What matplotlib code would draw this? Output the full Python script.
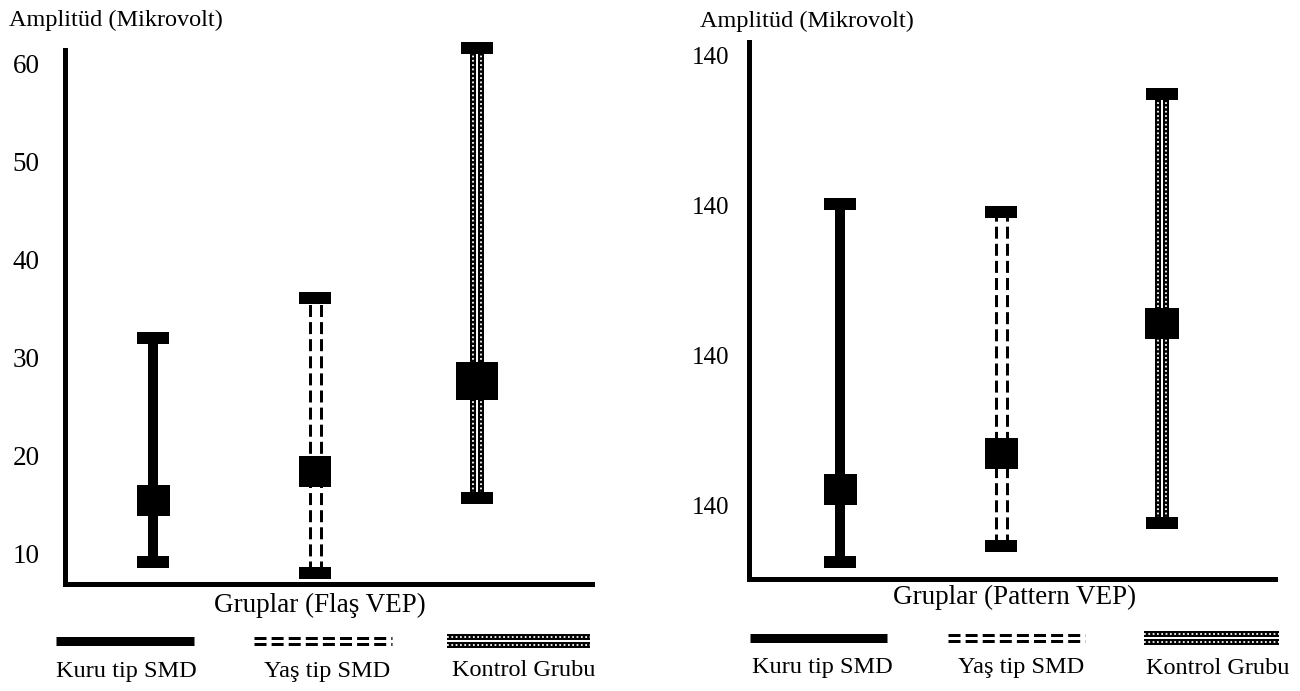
import matplotlib
matplotlib.use("Agg")
import matplotlib.pyplot as plt
from matplotlib import transforms
from matplotlib.path import Path

plt.rcParams["font.family"] = ["Liberation Serif", "DejaVu Serif"]

# ---- data ----
groups = ["Kuru tip SMD", "Yaş tip SMD", "Kontrol Grubu"]

# Flaş VEP: mean and range (µV)
flas_mean = [15.5, 18.4, 27.6]
flas_low = [9.2, 8.0, 15.7]
flas_high = [32.0, 36.1, 61.6]
flas_ticks = [10, 20, 30, 40, 50, 60]

# Pattern VEP: the printed ticks all read "140", so values are in tick steps
pat_mean = [5.55, 6.77, 11.09]
pat_low = [3.14, 3.65, 4.42]
pat_high = [15.06, 14.78, 18.74]
pat_ticks = [5, 10, 15, 20]
pat_ticklabels = ["140", "140", "140", "140"]

W, H = 1300, 691
fig = plt.figure(figsize=(W / 100, H / 100), dpi=100)


def pt(p):
    """pixels -> points at dpi 100"""
    return p * 0.72


def shifted(ax, dx=0, dy=0):
    return transforms.offset_copy(ax.transData, fig=fig, x=dx, y=dy, units="dots")


def rect_marker(w, h):
    return Path([(-w / 2, -h / 2), (w / 2, -h / 2), (w / 2, h / 2),
                 (-w / 2, h / 2), (-w / 2, -h / 2)], closed=True)


def draw_line(ax, xs, ys, kind, vertical=True, sep=5.5, lw=None):
    def tr(d):
        return shifted(ax, d, 0) if vertical else shifted(ax, 0, d)
    if kind == 0:   # Kuru: solid thick
        ax.plot(xs, ys, color="k", lw=pt(lw or 10), solid_capstyle="butt",
                clip_on=False, zorder=2)
    elif kind == 1:  # Yaş: double dashed
        for d in (-sep, sep):
            ax.plot(xs, ys, color="k", lw=pt(lw or 3), dashes=(4, 1.7),
                    transform=tr(d), clip_on=False, zorder=2)
    else:            # Kontrol: double dotted strands
        for d in (-sep, sep):
            ax.plot(xs, ys, color="k", lw=pt(lw or 6), solid_capstyle="butt",
                    transform=tr(d), clip_on=False, zorder=2)
            ax.plot(xs, ys, color="w", lw=pt(1.8), dashes=(1.0, 1.4),
                    transform=tr(d), clip_on=False, zorder=2)


def panel(rect, mean, low, high, ticks, ticklabels, xlim, ylim, boxes, pad, fs):
    ax = fig.add_axes(rect)
    ax.set_xlim(*xlim)
    ax.set_ylim(*ylim)
    for s in ("top", "right"):
        ax.spines[s].set_visible(False)
    for s in ("left", "bottom"):
        ax.spines[s].set_linewidth(pt(5))
    ax.set_xticks([])
    ax.set_yticks(ticks)
    ax.set_yticklabels(ticklabels)
    ax.tick_params(axis="y", length=0, pad=pad, labelsize=fs)
    cap = rect_marker(2.9, 1)
    seps = [0, 5.5, 4.2]
    for i in range(len(mean)):
        x = i + 1
        draw_line(ax, [x, x], [low[i], high[i]], i, sep=seps[i])
        ax.plot([x, x], [low[i], high[i]], ls="none", marker=cap,
                ms=pt(32), mew=0, color="k", clip_on=False, zorder=3)
        bw, bh = boxes[i]
        ax.plot([x], [mean[i]], ls="none", marker=rect_marker(bw, bh),
                ms=pt(max(bw, bh)), mew=0, color="k", clip_on=False, zorder=3)
    return ax


# left panel: Flaş VEP
panel([64.6 / W, 1 - 584 / H, (592 - 64.6) / W, (584 - 50) / H],
      flas_mean, flas_low, flas_high, flas_ticks, [str(t) for t in flas_ticks],
      (0.454, 3.71), (6.92, 61.38), [(33, 31), (32, 31), (43, 38)], 18, 19.5)

# right panel: Pattern VEP
panel([749 / W, 1 - 579 / H, (1275 - 749) / W, (579 - 42) / H],
      pat_mean, pat_low, pat_high, pat_ticks, pat_ticklabels,
      (0.435, 3.70), (2.56, 20.46), [(33, 31), (33, 31), (34, 31)], 14, 18)


def ftext(x, y, s, **kw):
    fig.text(x / W, 1 - y / H, s, **kw)


ftext(9, 20, "Amplitüd (Mikrovolt)", fontsize=17.5, va="center", ha="left")
ftext(700, 21, "Amplitüd (Mikrovolt)", fontsize=17.5, va="center", ha="left")
ftext(320, 605, "Gruplar (Flaş VEP)", fontsize=19.5, va="center", ha="center")
ftext(1015, 597, "Gruplar (Pattern VEP)", fontsize=19.5, va="center", ha="center")

# legend samples drawn in pixel space
lax = fig.add_axes([0, 0, 1, 1])
lax.set_xlim(0, W)
lax.set_ylim(H, 0)
lax.axis("off")
leg_rows = [
    (641, 671, [(56, 194), (254, 392), (447, 590)], [126, 327, 524]),
    (638, 668, [(750, 887), (948, 1085), (1144, 1279)], [822, 1021, 1218]),
]
for ly, ty, spans, centers in leg_rows:
    for k, (x0, x1) in enumerate(spans):
        if k == 0:
            draw_line(lax, [x0, x1], [ly, ly], 0, vertical=False, lw=9)
        elif k == 1:
            draw_line(lax, [x0, x1], [ly, ly], 1, vertical=False, sep=3.2, lw=3)
        else:
            draw_line(lax, [x0, x1], [ly, ly], 2, vertical=False, sep=4.2, lw=6)
        ftext(centers[k], ty, groups[k], fontsize=17.5, va="center", ha="center")

fig.savefig("out.png", dpi=100)
